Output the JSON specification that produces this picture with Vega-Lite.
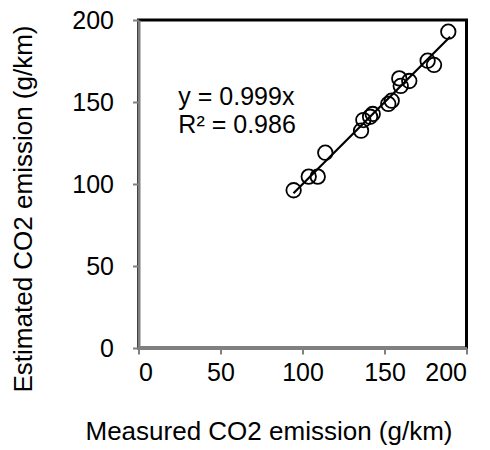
{
  "$schema": "https://vega.github.io/schema/vega-lite/v6.json",
  "width": 328,
  "height": 328,
  "autosize": "none",
  "padding": {"left": 138.5, "top": 20, "right": 23.5, "bottom": 102},
  "background": "white",
  "config": {
    "font": "Liberation Sans",
    "view": {"stroke": "black", "strokeWidth": 3},
    "axis": {"grid": false}
  },
  "datasets": {
    "points": [
      {"measured": 94.6, "estimated": 96.2},
      {"measured": 103.8, "estimated": 104.5},
      {"measured": 109.3, "estimated": 104.5},
      {"measured": 113.9, "estimated": 119.1},
      {"measured": 135.7, "estimated": 132.5},
      {"measured": 137.1, "estimated": 139.0},
      {"measured": 141.2, "estimated": 141.0},
      {"measured": 142.8, "estimated": 142.7},
      {"measured": 152.3, "estimated": 148.8},
      {"measured": 154.4, "estimated": 150.8},
      {"measured": 159.0, "estimated": 164.4},
      {"measured": 159.9, "estimated": 159.8},
      {"measured": 165.1, "estimated": 162.8},
      {"measured": 176.3, "estimated": 175.2},
      {"measured": 180.2, "estimated": 172.6},
      {"measured": 188.9, "estimated": 192.9}
    ],
    "trend": [
      {"measured": 94.5, "estimated": 94.4},
      {"measured": 190.0, "estimated": 189.8}
    ],
    "notes": [
      {"measured": 24.3, "estimated": 148.2, "label": "y = 0.999x"},
      {"measured": 24.3, "estimated": 131.0, "label": "R² = 0.986"}
    ]
  },
  "layer": [
    {
      "data": {"name": "trend"},
      "mark": {"type": "line", "color": "black", "strokeWidth": 2.2},
      "encoding": {
        "x": {
          "field": "measured", "type": "quantitative",
          "scale": {"domain": [0, 200], "nice": false, "zero": false},
          "axis": {
            "title": "Measured CO2 emission (g/km)",
            "values": [0, 50, 100, 150, 200],
            "domainColor": "#808080", "domainWidth": 3,
            "tickColor": "#808080", "tickWidth": 2, "tickSize": 6,
            "labelFontSize": 25, "labelColor": "black", "labelPadding": 6,
            "labelFont": "Liberation Sans",
            "titleFontSize": 26, "titleFontWeight": "normal", "titleColor": "black",
            "titleFont": "Liberation Sans",
            "titleX": 130, "titleY": 91.3, "titleAlign": "center", "titleBaseline": "alphabetic"
          }
        },
        "y": {
          "field": "estimated", "type": "quantitative",
          "scale": {"domain": [0, 200], "nice": false, "zero": false},
          "axis": {
            "title": "Estimated CO2 emission (g/km)",
            "values": [0, 50, 100, 150, 200],
            "domainColor": "#808080", "domainWidth": 3,
            "tickColor": "#808080", "tickWidth": 2, "tickSize": 6,
            "labelFontSize": 25, "labelColor": "black", "labelPadding": 19,
            "labelFont": "Liberation Sans",
            "titleFontSize": 26, "titleFontWeight": "normal", "titleColor": "black",
            "titleFont": "Liberation Sans",
            "titleAngle": -90,
            "titleX": -106.8, "titleY": 188.5, "titleAlign": "center", "titleBaseline": "alphabetic"
          }
        }
      }
    },
    {
      "data": {"name": "points"},
      "mark": {"type": "point", "shape": "circle", "filled": false, "stroke": "black", "strokeWidth": 1.8, "size": 210, "opacity": 1},
      "encoding": {
        "x": {"field": "measured", "type": "quantitative"},
        "y": {"field": "estimated", "type": "quantitative"}
      }
    },
    {
      "data": {"name": "notes"},
      "mark": {"type": "text", "align": "left", "baseline": "alphabetic", "fontSize": 25, "font": "Liberation Sans", "color": "black"},
      "encoding": {
        "x": {"field": "measured", "type": "quantitative"},
        "y": {"field": "estimated", "type": "quantitative"},
        "text": {"field": "label", "type": "nominal"}
      }
    }
  ]
}
